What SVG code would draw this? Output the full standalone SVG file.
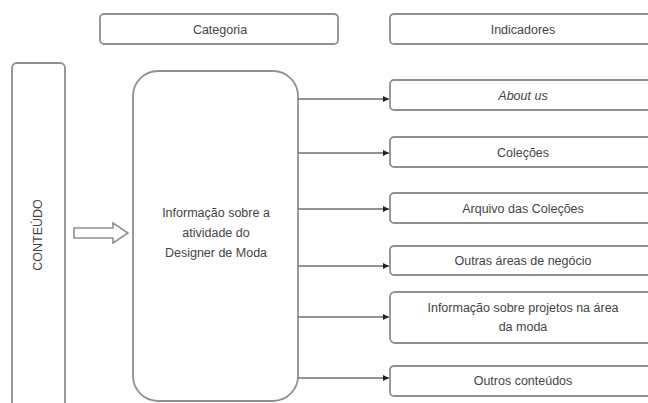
<svg xmlns="http://www.w3.org/2000/svg" width="648" height="403" viewBox="0 0 648 403">
<defs>
<style>
.box{fill:#fff;stroke:#909090;stroke-width:1.8}
.t{font-family:"Liberation Sans",Arial,sans-serif;font-size:12.5px;fill:#444;text-anchor:middle}
.c{stroke:#707070;stroke-width:1.4;fill:none}
</style>
<marker id="ah" markerWidth="8" markerHeight="8" refX="6" refY="3" orient="auto" markerUnits="userSpaceOnUse">
<path d="M0,0 L6,3 L0,6 Z" fill="#222"/>
</marker>
</defs>
<rect width="648" height="403" fill="#fff"/>
<g id="categoria"><rect class="box" x="100" y="14" width="238" height="30" rx="4"/><text class="t" x="220" y="34">Categoria</text></g>
<g id="indicadores"><rect class="box" x="390" y="14" width="266" height="30" rx="4"/><text class="t" x="523" y="34">Indicadores</text></g>
<g id="conteudo"><rect class="box" x="12" y="63" width="53" height="360" rx="5"/><text class="t" style="font-size:12.5px" transform="translate(42,235) rotate(-90)">CONTEÚDO</text></g>
<g id="seta"><path d="M74,228 L113,228 L113,223 L128,233 L113,243 L113,238 L74,238 Z" fill="#fff" stroke="#909090" stroke-width="1.6"/></g>
<g id="informacao"><rect class="box" x="133" y="71" width="165" height="330" rx="25"/>
<text class="t" x="216" y="217">Informação sobre a</text>
<text class="t" x="216" y="237">atividade do</text>
<text class="t" x="216" y="257">Designer de Moda</text></g>
<g id="about"><rect class="box" x="390" y="80" width="266" height="30" rx="4"/><text class="t" x="523" y="100" font-style="italic">About us</text></g>
<g id="colecoes"><rect class="box" x="390" y="137" width="266" height="30" rx="4"/><text class="t" x="523" y="157">Coleções</text></g>
<g id="arquivo"><rect class="box" x="390" y="193" width="266" height="30" rx="4"/><text class="t" x="523" y="213">Arquivo das Coleções</text></g>
<g id="outras"><rect class="box" x="390" y="246" width="266" height="29" rx="4"/><text class="t" x="523" y="265">Outras áreas de negócio</text></g>
<g id="projetos"><rect class="box" x="390" y="292" width="266" height="51" rx="5"/><text class="t" x="523" y="312">Informação sobre projetos na área</text><text class="t" x="523" y="331">da moda</text></g>
<g id="outros"><rect class="box" x="390" y="366" width="266" height="30" rx="4"/><text class="t" x="523" y="385">Outros conteúdos</text></g>
<g id="connectors">
<line class="c" x1="298" y1="99" x2="389" y2="99" marker-end="url(#ah)"/>
<line class="c" x1="298" y1="153" x2="389" y2="153" marker-end="url(#ah)"/>
<line class="c" x1="298" y1="209" x2="389" y2="209" marker-end="url(#ah)"/>
<line class="c" x1="298" y1="266" x2="389" y2="266" marker-end="url(#ah)"/>
<line class="c" x1="298" y1="317" x2="389" y2="317" marker-end="url(#ah)"/>
<line class="c" x1="298" y1="378" x2="389" y2="378" marker-end="url(#ah)"/>
</g>
</svg>
